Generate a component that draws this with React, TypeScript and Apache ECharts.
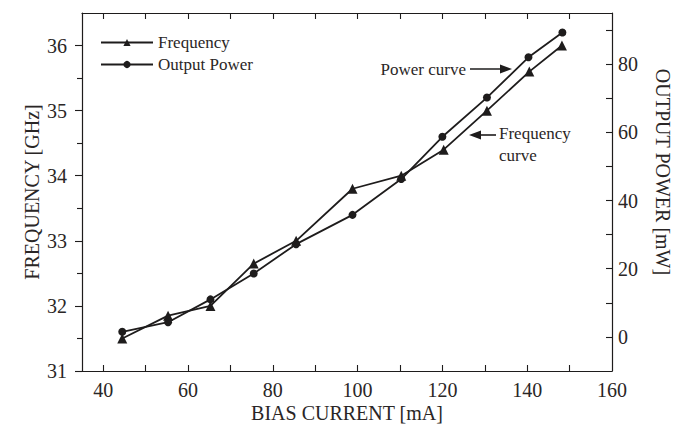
import React, { useEffect, useRef } from "react";
import * as echarts from "echarts";

// Bias current (mA) for each measured point
const freqCurrent = [44.5, 55.3, 65.3, 75.5, 85.5, 98.8, 110.3, 120.3, 130.5, 140.5, 148.2];
// Frequency (GHz)
const frequency = [31.5, 31.85, 32.0, 32.65, 33.0, 33.8, 34.0, 34.4, 35.0, 35.6, 36.0];
const powerCurrent = [44.5, 55.3, 65.3, 75.5, 85.5, 98.8, 110.3, 120.0, 130.5, 140.3, 148.3];
// Output power (mW)
const power = [1.5, 4.3, 11.0, 18.6, 27.2, 35.8, 46.3, 58.7, 70.2, 82.0, 89.3];

const xLabels = [40, 60, 80, 100, 120, 140, 160];
const xTicks = [40, 50, 60, 70, 80, 90, 100, 110, 120, 130, 140, 150];
const freqLabels = [31, 32, 33, 34, 35, 36];
const freqMinorTicks = [31.5, 32.5, 33.5, 34.5, 35.5];
const powerLabels = [0, 20, 40, 60, 80];
const powerTicks = [0, 10, 20, 30, 40, 50, 60, 70, 80, 90];

const FONT = "'Liberation Serif', 'Times New Roman', serif";
const INK = "#1e1c1c";
const TXT = "#2a2626";

export default function App() {
  const ref = useRef<HTMLDivElement>(null);

  useEffect(() => {
    if (!ref.current) return;
    const chart = echarts.init(ref.current, null, { renderer: "svg" });
    const axisLine = { show: true, onZero: false, lineStyle: { color: INK, width: 1.2 } };
    const tickStyle = { color: INK, width: 1.1 };
    chart.setOption({
      animation: false,
      textStyle: { fontFamily: FONT },
      grid: { left: 82, right: 73, top: 13, bottom: 57, containLabel: false },
      legend: {
        orient: "vertical",
        left: 100,
        top: 34,
        padding: 0,
        itemWidth: 52,
        itemHeight: 9,
        itemGap: 5,
        textStyle: { fontFamily: FONT, fontSize: 17, color: TXT },
        data: ["Frequency", "Output Power"],
      },
      xAxis: [
        {
          type: "value",
          min: 35,
          max: 160,
          position: "bottom",
          axisLine,
          axisTick: { show: true, inside: true, length: 6, customValues: xTicks, lineStyle: tickStyle },
          axisLabel: { customValues: xLabels, fontSize: 20, color: TXT, margin: 9, fontFamily: FONT },
          splitLine: { show: false },
        },
        {
          type: "value",
          min: 35,
          max: 160,
          position: "top",
          axisLine,
          axisTick: { show: true, inside: true, length: 6, customValues: xTicks, lineStyle: tickStyle },
          axisLabel: { show: false },
          splitLine: { show: false },
        },
      ],
      yAxis: [
        {
          type: "value",
          min: 31,
          max: 36.5,
          position: "left",
          axisLine,
          axisTick: { show: true, inside: false, length: 7, customValues: freqLabels, lineStyle: tickStyle },
          axisLabel: { customValues: freqLabels, fontSize: 20, color: TXT, margin: 15, fontFamily: FONT },
          splitLine: { show: false },
        },
        {
          type: "value",
          min: -10,
          max: 95,
          position: "right",
          axisLine,
          axisTick: { show: true, inside: true, length: 6, customValues: powerTicks, lineStyle: tickStyle },
          axisLabel: { customValues: powerLabels, fontSize: 20, color: TXT, margin: 6, fontFamily: FONT },
          splitLine: { show: false },
        },
        {
          type: "value",
          min: 31,
          max: 36.5,
          position: "left",
          axisLine: { show: false, onZero: false },
          axisTick: { show: true, inside: false, length: 5, customValues: freqMinorTicks, lineStyle: tickStyle },
          axisLabel: { show: false },
          splitLine: { show: false },
        },
      ],
      series: [
        {
          name: "Frequency",
          type: "line",
          xAxisIndex: 0,
          yAxisIndex: 0,
          data: freqCurrent.map((x, i) => [x, frequency[i]]),
          symbol: "triangle",
          symbolSize: 10,
          lineStyle: { color: INK, width: 1.8 },
          itemStyle: { color: INK },
        },
        {
          name: "Output Power",
          type: "line",
          xAxisIndex: 0,
          yAxisIndex: 1,
          data: powerCurrent.map((x, i) => [x, power[i]]),
          symbol: "circle",
          symbolSize: 8,
          lineStyle: { color: INK, width: 1.8 },
          itemStyle: { color: INK },
        },
      ],
      graphic: [
        {
          type: "text",
          x: 347,
          y: 413,
          style: { text: "BIAS CURRENT [mA]", font: `20px ${FONT}`, fill: TXT, align: "center", verticalAlign: "middle" },
        },
        {
          type: "text",
          x: 32,
          y: 192,
          rotation: Math.PI / 2,
          style: { text: "FREQUENCY [GHz]", font: `20px ${FONT}`, fill: TXT, align: "center", verticalAlign: "middle" },
        },
        {
          type: "text",
          x: 663,
          y: 172,
          rotation: -Math.PI / 2,
          style: { text: "OUTPUT POWER [mW]", font: `20px ${FONT}`, fill: TXT, align: "center", verticalAlign: "middle" },
        },
        {
          type: "text",
          x: 466,
          y: 69,
          style: { text: "Power curve", font: `17px ${FONT}`, fill: TXT, align: "right", verticalAlign: "middle" },
        },
        { type: "line", shape: { x1: 470, y1: 69, x2: 504, y2: 69 }, style: { stroke: INK, lineWidth: 1.6 } },
        { type: "polygon", shape: { points: [[512, 69], [500, 64.5], [500, 73.5]] }, style: { fill: INK } },
        { type: "polygon", shape: { points: [[469, 135], [481, 130.5], [481, 139.5]] }, style: { fill: INK } },
        { type: "line", shape: { x1: 478, y1: 135, x2: 496, y2: 135 }, style: { stroke: INK, lineWidth: 1.6 } },
        {
          type: "text",
          x: 499,
          y: 133,
          style: { text: "Frequency", font: `17px ${FONT}`, fill: TXT, align: "left", verticalAlign: "middle" },
        },
        {
          type: "text",
          x: 499,
          y: 155,
          style: { text: "curve", font: `17px ${FONT}`, fill: TXT, align: "left", verticalAlign: "middle" },
        },
      ],
    });
    return () => chart.dispose();
  }, []);

  return (
    <div
      ref={ref}
      style={{ position: "fixed", left: 0, top: 0, width: 685, height: 428, background: "#fff" }}
    />
  );
}
